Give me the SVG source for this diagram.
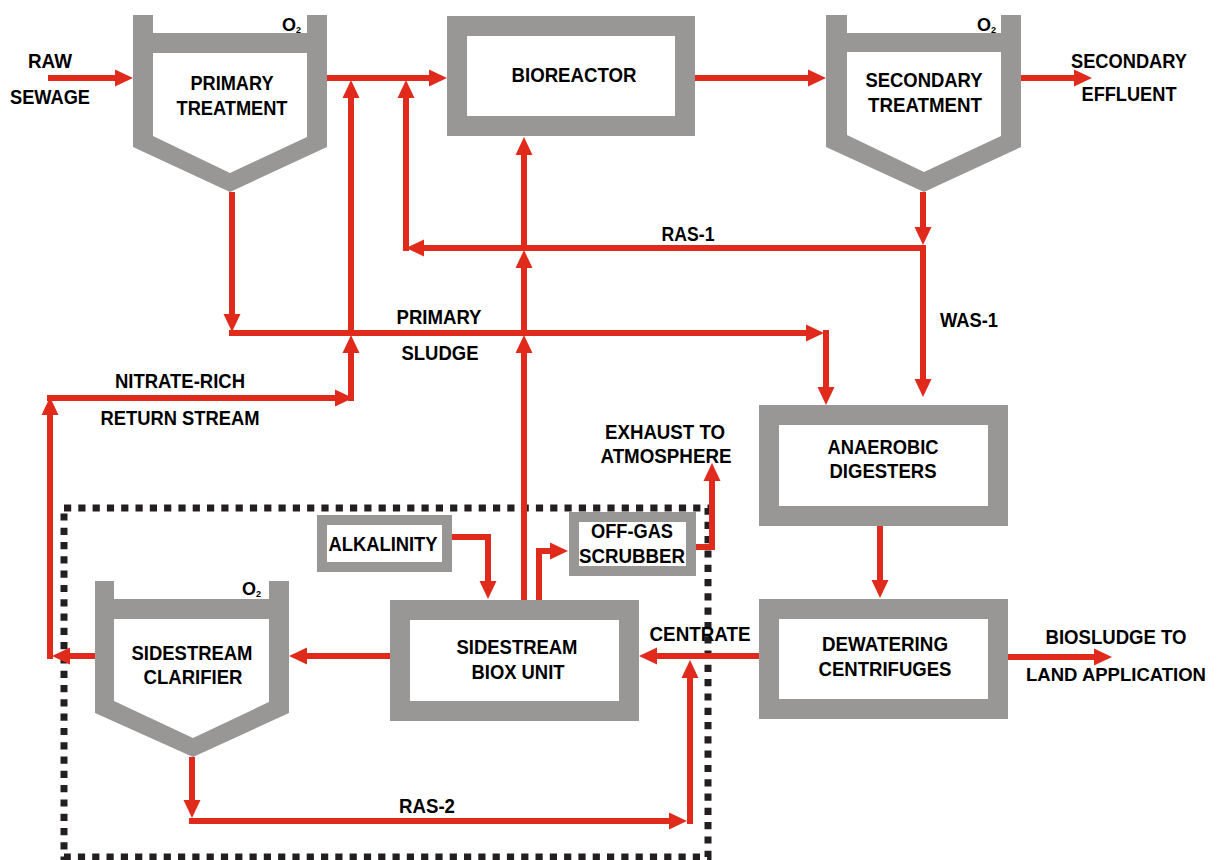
<svg xmlns="http://www.w3.org/2000/svg" width="1217" height="860" viewBox="0 0 1217 860">
<style>
.wall{fill:#989795;fill-rule:evenodd}
.frame{fill:#fff;stroke:#989795}
.f20{stroke-width:20}
.f10{stroke-width:10}
.flow{fill:none;stroke:#E02B1C;stroke-width:6;stroke-linejoin:miter;stroke-linecap:butt;marker-end:url(#ah)}
text{font-family:"Liberation Sans",Arial,Helvetica,sans-serif;font-weight:bold;font-size:20px;fill:#000;text-anchor:middle}
text.o2{font-size:18px;text-anchor:start}
.sub{font-size:9px}
text.s19{font-size:19px}
.dots{fill:none;stroke:#231F20;stroke-width:7;stroke-dasharray:7.2 7.1}
</style>
<defs>
<marker id="ah" markerUnits="userSpaceOnUse" markerWidth="18" markerHeight="18" viewBox="0 0 18 18" refX="10" refY="9" orient="auto">
<path d="M0,0.5 L18,9 L0,17.5 Z" fill="#E02B1C"/>
</marker>
</defs>

<rect class="dots" x="64" y="508" width="644" height="349"/>

<g id="connectors">
<path class="flow" d="M48,78 H125"/>
<path class="flow" d="M327,78 H439"/>
<path class="flow" d="M695,78 H818"/>
<path class="flow" d="M1021,78 H1084"/>
<path class="flow" d="M232,192 V324"/>
<path class="flow" d="M229,333 H816"/>
<path class="flow" d="M826,330 V397"/>
<path class="flow" d="M923,192 V237"/>
<path class="flow" d="M926,248 H414"/>
<path class="flow" d="M406,251 V88"/>
<path class="flow" d="M923,245 V389"/>
<path class="flow" d="M880,526 V590"/>
<path class="flow" d="M1008,657 H1104"/>
<path class="flow" d="M759,656 H647"/>
<path class="flow" d="M690,824 V668"/>
<path class="flow" d="M189,821 H679"/>
<path class="flow" d="M192,757 V810"/>
<path class="flow" d="M390,656 H297"/>
<path class="flow" d="M95,656 H60"/>
<path class="flow" d="M50,659 V405"/>
<path class="flow" d="M47,398 H345"/>
<path class="flow" d="M351,401 V343"/>
<path class="flow" d="M351,333 V88"/>
<path class="flow" d="M524,600 V343"/>
<path class="flow" d="M524,333 V258"/>
<path class="flow" d="M524,248 V145"/>
<path class="flow" d="M539,600 V551 H560"/>
<path class="flow" d="M696,547 H712 V471"/>
<path class="flow" d="M452,537 H488 V591"/>
</g>

<g id="primary-treatment">
<path class="wall" d="M133,15 H153 V33 H307 V15 H327 V147 L230,192 L133,147 Z M153,53 H307 V137 L230,173 L153,136 Z"/>
<text x="232" y="90" textLength="83" lengthAdjust="spacingAndGlyphs">PRIMARY</text>
<text x="232" y="115" textLength="111" lengthAdjust="spacingAndGlyphs">TREATMENT</text>
<text class="o2" x="282" y="31">O<tspan class="sub" x="296" y="33">2</tspan></text>
</g>

<g id="bioreactor">
<rect class="frame f20" x="457" y="26" width="228" height="100"/>
<text x="574" y="82" textLength="125" lengthAdjust="spacingAndGlyphs">BIOREACTOR</text>
</g>

<g id="secondary-treatment">
<path class="wall" d="M826,15 H847 V33 H1001 V15 H1021 V147 L924,192 L826,147 Z M847,52 H1001 V136 L924,172 L847,135 Z"/>
<text x="924" y="87" textLength="117" lengthAdjust="spacingAndGlyphs">SECONDARY</text>
<text x="925" y="112" textLength="114" lengthAdjust="spacingAndGlyphs">TREATMENT</text>
<text class="o2" x="977" y="31">O<tspan class="sub" x="991" y="33">2</tspan></text>
</g>

<g id="anaerobic-digesters">
<rect class="frame f20" x="769" y="415" width="229" height="101"/>
<text x="883" y="454" textLength="111" lengthAdjust="spacingAndGlyphs">ANAEROBIC</text>
<text x="883" y="478" textLength="107" lengthAdjust="spacingAndGlyphs">DIGESTERS</text>
</g>

<g id="dewatering-centrifuges">
<rect class="frame f20" x="769" y="609" width="229" height="100"/>
<text x="885" y="651" textLength="126" lengthAdjust="spacingAndGlyphs">DEWATERING</text>
<text x="885" y="676" textLength="133" lengthAdjust="spacingAndGlyphs">CENTRIFUGES</text>
</g>

<g id="sidestream-biox">
<rect class="frame f20" x="400" y="610" width="229" height="101"/>
<text x="517" y="654" textLength="121" lengthAdjust="spacingAndGlyphs">SIDESTREAM</text>
<text x="518" y="679" textLength="93" lengthAdjust="spacingAndGlyphs">BIOX UNIT</text>
</g>

<g id="off-gas-scrubber">
<rect class="frame f10" x="574" y="517" width="117" height="54"/>
<text x="632" y="538" textLength="82" lengthAdjust="spacingAndGlyphs">OFF-GAS</text>
<text x="632" y="563" textLength="106" lengthAdjust="spacingAndGlyphs">SCRUBBER</text>
</g>

<g id="alkalinity">
<rect class="frame f10" x="322" y="520" width="125" height="47"/>
<text x="383" y="551" textLength="109" lengthAdjust="spacingAndGlyphs">ALKALINITY</text>
</g>

<g id="sidestream-clarifier">
<path class="wall" d="M95,581 H114 V599 H269 V581 H289 V713 L193,757 L95,713 Z M114,619 H269 V702 L193,738 L114,701 Z"/>
<text x="192" y="660" textLength="121" lengthAdjust="spacingAndGlyphs">SIDESTREAM</text>
<text x="193" y="684" textLength="99" lengthAdjust="spacingAndGlyphs">CLARIFIER</text>
<text class="o2" x="242" y="595">O<tspan class="sub" x="256" y="597">2</tspan></text>
</g>

<g id="labels">
<text x="50" y="68" textLength="44" lengthAdjust="spacingAndGlyphs">RAW</text>
<text x="50" y="104" textLength="80" lengthAdjust="spacingAndGlyphs">SEWAGE</text>
<text x="1129" y="68" textLength="116" lengthAdjust="spacingAndGlyphs">SECONDARY</text>
<text x="1129" y="101" textLength="95" lengthAdjust="spacingAndGlyphs">EFFLUENT</text>
<text x="688" y="241" textLength="53" lengthAdjust="spacingAndGlyphs">RAS-1</text>
<text x="969" y="327" textLength="58" lengthAdjust="spacingAndGlyphs">WAS-1</text>
<text x="439" y="324" textLength="85" lengthAdjust="spacingAndGlyphs">PRIMARY</text>
<text x="440" y="360" textLength="77" lengthAdjust="spacingAndGlyphs">SLUDGE</text>
<text x="180" y="388" textLength="130" lengthAdjust="spacingAndGlyphs">NITRATE-RICH</text>
<text x="180" y="425" textLength="159" lengthAdjust="spacingAndGlyphs">RETURN STREAM</text>
<text x="665" y="439" textLength="120" lengthAdjust="spacingAndGlyphs">EXHAUST TO</text>
<text x="666" y="463" textLength="131" lengthAdjust="spacingAndGlyphs">ATMOSPHERE</text>
<text x="700" y="641" textLength="101" lengthAdjust="spacingAndGlyphs">CENTRATE</text>
<text x="1116" y="644" textLength="141" lengthAdjust="spacingAndGlyphs">BIOSLUDGE TO</text>
<text class="s19" x="1116" y="681" textLength="180" lengthAdjust="spacingAndGlyphs">LAND APPLICATION</text>
<text x="427" y="813" textLength="56" lengthAdjust="spacingAndGlyphs">RAS-2</text>
</g>
</svg>
